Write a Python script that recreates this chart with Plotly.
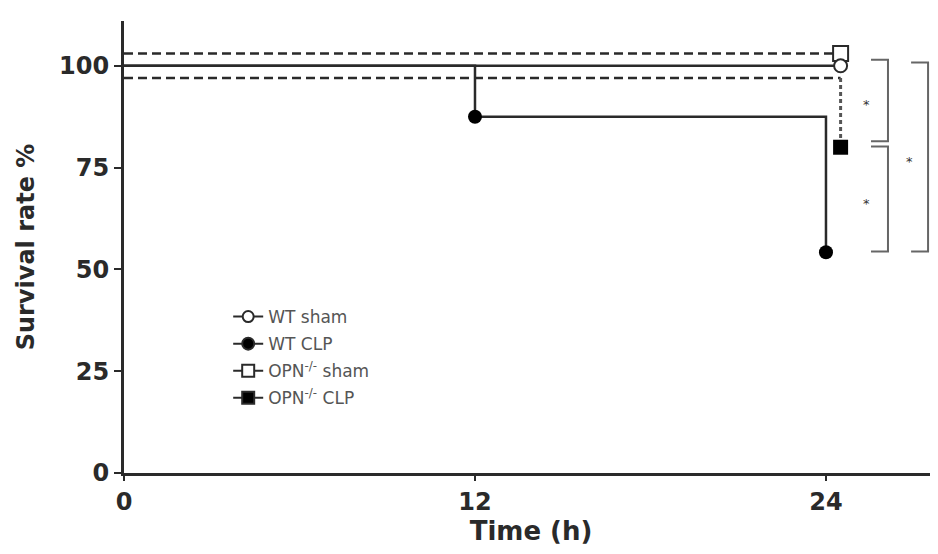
import plotly.graph_objects as go

# ---- data ----
wt_sham_t = [0, 24.5]
wt_sham_s = [100, 100]
wt_clp_t = [0, 12, 24]
wt_clp_s = [100, 87.5, 54.2]
opn_sham_t = [0, 24.5]
opn_sham_s = [100, 100]
opn_clp_t = [0, 24.5]
opn_clp_s = [100, 80]

group_names = ["WT sham", "WT CLP", "OPN<sup>-/-</sup> sham", "OPN<sup>-/-</sup> CLP"]
x_ticks = [0, 12, 24]
y_ticks = [0, 25, 50, 75, 100]

# significance comparisons: (group a, group b, label)
comparisons = [("WT sham", "OPN CLP", "*"), ("OPN CLP", "WT CLP", "*"), ("WT sham", "WT CLP", "*")]

# ---- styling ----
INK = "#2a2a2a"
LINE_W = 2.5
NUDGE = 3  # visual separation of overlapping 100% lines (GraphPad style)

def nudge(vals, d):
    return [v + d if v == 100 else v for v in vals]

fig = go.Figure()

# WT sham (solid)
fig.add_trace(go.Scatter(x=wt_sham_t, y=wt_sham_s, mode="lines",
                         line=dict(color=INK, width=LINE_W), showlegend=False, hoverinfo="skip"))
# OPN sham (dashed, nudged up)
fig.add_trace(go.Scatter(x=opn_sham_t, y=nudge(opn_sham_s, NUDGE), mode="lines",
                         line=dict(color=INK, width=LINE_W, dash="9px,5px"), showlegend=False, hoverinfo="skip"))
# OPN CLP (dashed plateau nudged down, dotted drop)
oc_y = nudge(opn_clp_s, -NUDGE)
fig.add_trace(go.Scatter(x=opn_clp_t, y=[oc_y[0], oc_y[0]], mode="lines",
                         line=dict(color=INK, width=LINE_W, dash="9px,5px"), showlegend=False, hoverinfo="skip"))
fig.add_trace(go.Scatter(x=[opn_clp_t[-1], opn_clp_t[-1]], y=[oc_y[0], oc_y[-1]], mode="lines",
                         line=dict(color="#555", width=3, dash="4px,3px"), showlegend=False, hoverinfo="skip"))
# WT CLP (solid steps)
fig.add_trace(go.Scatter(x=wt_clp_t, y=wt_clp_s, mode="lines", line_shape="hv",
                         line=dict(color=INK, width=LINE_W), showlegend=False, hoverinfo="skip"))

# markers
fig.add_trace(go.Scatter(x=[opn_sham_t[-1]], y=[nudge(opn_sham_s, NUDGE)[-1]], mode="markers",
                         marker=dict(symbol="square", size=15, color="white", line=dict(color=INK, width=2)),
                         showlegend=False, hoverinfo="skip"))
fig.add_trace(go.Scatter(x=[wt_sham_t[-1]], y=[wt_sham_s[-1]], mode="markers",
                         marker=dict(symbol="circle", size=13, color="white", line=dict(color=INK, width=2)),
                         showlegend=False, hoverinfo="skip"))
fig.add_trace(go.Scatter(x=wt_clp_t[1:], y=wt_clp_s[1:], mode="markers",
                         marker=dict(symbol="circle", size=14, color="black"),
                         showlegend=False, hoverinfo="skip"))
fig.add_trace(go.Scatter(x=[opn_clp_t[-1]], y=[opn_clp_s[-1]], mode="markers",
                         marker=dict(symbol="square", size=15, color="black"),
                         showlegend=False, hoverinfo="skip"))

# legend entries
leg_markers = [("circle", "white", 11), ("circle", "black", 12), ("square", "white", 12), ("square", "black", 12)]
for i, (name, (sym, fillc, sz)) in enumerate(zip(group_names, leg_markers)):
    fig.add_trace(go.Scatter(x=[None], y=[None], mode="lines+markers", name=name, legendgroup=f"g{i}",
                             line=dict(color=INK, width=2),
                             marker=dict(symbol=sym, size=sz, color=fillc, line=dict(color=INK, width=2))))

# significance brackets
final = {"WT sham": wt_sham_s[-1], "WT CLP": wt_clp_s[-1], "OPN CLP": opn_clp_s[-1]}
bracket_x = [26.12, 26.12, 27.49]
bracket_tick = 0.58
star_x = [25.37, 25.37, 26.84]
pads = [(1.5, 1.5), (0.2, 0.2), (0.8, 0.2)]
shapes = []
annotations = []
for (a, b, lab), bx, sx, (pa, pb) in zip(comparisons, bracket_x, star_x, pads):
    y0, y1 = final[a] + pa, final[b] + pb
    path = f"M {bx - bracket_tick} {y0} L {bx} {y0} L {bx} {y1} L {bx - bracket_tick} {y1}"
    shapes.append(dict(type="path", path=path, xref="x", yref="y",
                       line=dict(color="#666", width=2)))
    annotations.append(dict(x=sx, y=(y0 + y1) / 2 - 1, xref="x", yref="y", text=lab, showarrow=False,
                            font=dict(family="DejaVu Sans", size=13, color="#333")))

fig.update_layout(
    width=930, height=546,
    margin=dict(l=116, r=0, t=13, b=81, autoexpand=False),
    plot_bgcolor="white", paper_bgcolor="white",
    shapes=shapes, annotations=annotations,
    showlegend=True,
    legend=dict(x=0.128, y=0.385, xanchor="left", yanchor="top",
                font=dict(family="DejaVu Sans", size=17, color="#555"),
                bgcolor="rgba(0,0,0,0)", tracegroupgap=2, itemwidth=30),
    xaxis=dict(range=[0, 27.83], tickvals=x_ticks, ticktext=[str(t) for t in x_ticks],
               showgrid=False, zeroline=False, showline=True, linecolor=INK, linewidth=3,
               ticks="outside", ticklen=5, tickwidth=2, tickcolor=INK,
               tickfont=dict(family="DejaVu Sans", size=24, color=INK, weight="bold"),
               title=dict(text="<b>Time (h)</b>", standoff=4,
                          font=dict(family="DejaVu Sans", size=26, color=INK))),
    yaxis=dict(range=[0, 111], tickvals=y_ticks, ticktext=[str(t) for t in y_ticks],
               showgrid=False, zeroline=False, showline=True, linecolor=INK, linewidth=3,
               ticks="outside", ticklen=7, tickwidth=2, tickcolor=INK,
               tickfont=dict(family="DejaVu Sans", size=24, color=INK, weight="bold"),
               title=dict(text="<b>Survival rate %</b>", standoff=18,
                          font=dict(family="DejaVu Sans", size=24, color=INK))),
)

fig.write_html("out.html")
